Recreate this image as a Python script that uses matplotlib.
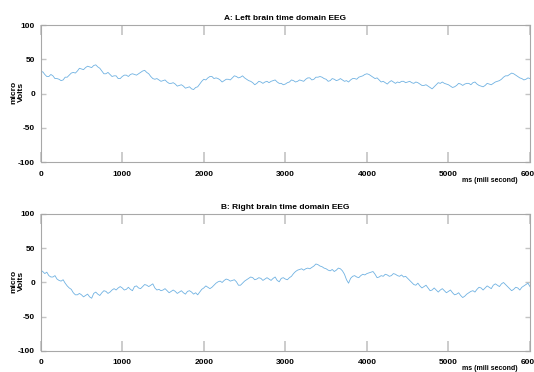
import numpy as np
import matplotlib
matplotlib.use("Agg")
import matplotlib.pyplot as plt

plt.rcParams['font.family'] = ['Liberation Sans', 'DejaVu Sans']
plt.rcParams['font.weight'] = 'bold'
plt.rcParams['axes.unicode_minus'] = False

# left brain EEG, micro volts, one value every 25 ms from 0 to 6000 ms
left_eeg = [
    31, 32, 28, 25, 25, 28, 26, 22, 22, 21, 19, 20, 24, 24, 27, 30, 31, 30, 33, 37,
    36, 35, 38, 40, 39, 38, 41, 42, 39, 37, 33, 29, 29, 31, 28, 25, 26, 26, 22, 22,
    25, 27, 27, 25, 28, 29, 28, 27, 29, 31, 33, 34, 31, 29, 25, 22, 21, 22, 20, 18,
    19, 20, 17, 15, 15, 16, 14, 11, 12, 13, 11, 8, 9, 10, 7, 6, 9, 10, 14, 18,
    21, 20, 23, 25, 25, 22, 23, 22, 20, 17, 19, 21, 21, 20, 23, 26, 25, 23, 24, 26,
    23, 21, 19, 18, 16, 13, 15, 18, 17, 15, 17, 18, 16, 18, 19, 20, 17, 15, 15, 13,
    14, 16, 17, 20, 19, 17, 18, 20, 19, 18, 21, 23, 23, 20, 21, 24, 24, 25, 24, 22,
    21, 18, 19, 22, 21, 19, 20, 22, 20, 18, 19, 17, 20, 22, 22, 21, 24, 25, 26, 28,
    29, 28, 26, 24, 22, 23, 20, 17, 18, 16, 14, 17, 19, 17, 15, 17, 16, 18, 18, 16,
    17, 18, 16, 15, 17, 16, 14, 12, 12, 13, 11, 9, 7, 10, 13, 16, 15, 17, 15, 14,
    13, 11, 9, 10, 12, 15, 14, 12, 14, 15, 15, 13, 16, 17, 14, 12, 11, 10, 12, 15,
    14, 13, 15, 17, 18, 19, 21, 24, 26, 26, 28, 30, 29, 27, 25, 23, 22, 20, 21, 23,
    22,
]

# right brain EEG, micro volts, same sampling
right_eeg = [
    18, 16, 13, 15, 10, 8, 8, 10, 5, 3, 2, 4, -1, -5, -8, -10, -15, -18, -18, -16,
    -18, -21, -19, -17, -21, -23, -16, -14, -17, -19, -15, -12, -13, -16, -14, -11, -9, -11, -8, -6,
    -8, -11, -10, -7, -10, -12, -6, -5, -8, -9, -6, -3, -4, -6, -4, -2, -8, -11, -10, -12,
    -11, -9, -12, -15, -13, -11, -13, -16, -14, -12, -15, -17, -13, -12, -14, -17, -15, -18, -14, -10,
    -8, -5, -7, -9, -7, -4, -1, 1, 2, 0, 3, 5, 4, 2, 3, 4, 1, -4, -4, -1,
    2, 4, 6, 8, 7, 4, 5, 7, 6, 3, 5, 7, 5, 3, 6, 8, 3, 1, 6, 7,
    5, 4, 7, 9, 13, 16, 18, 19, 20, 18, 20, 21, 20, 22, 24, 27, 26, 24, 23, 21,
    20, 18, 17, 19, 16, 18, 21, 20, 17, 12, 4, -1, 6, 9, 10, 8, 7, 10, 12, 11,
    13, 14, 15, 16, 12, 7, 8, 10, 9, 12, 11, 9, 10, 13, 12, 10, 9, 11, 8, 9,
    6, 3, 0, -3, -4, -1, -5, -8, -6, -4, -8, -12, -11, -8, -11, -14, -11, -9, -12, -15,
    -13, -11, -15, -18, -17, -15, -19, -22, -20, -17, -15, -13, -12, -14, -10, -7, -8, -11, -8, -5,
    -7, -9, -4, -2, -4, -6, -2, 0, -3, -6, -9, -12, -10, -7, -8, -11, -7, -5, -3, -1,
    -6,
]

titles = ['A: Left brain time domain EEG', 'B: Right brain time domain EEG']
x_ticks = [0, 1000, 2000, 3000, 4000, 5000, 6000]
y_ticks = [-100, -50, 0, 50, 100]

line_color = '#70b2e2'
frame_color = '#a8a8a8'
tick_color = '#c4c4c4'

fig = plt.figure(figsize=(5.34, 3.72), dpi=100)
axes = [fig.add_axes([0.0762, 0.5637, 0.9163, 0.369]),
        fig.add_axes([0.0762, 0.0565, 0.9163, 0.3683])]

for ax, series, title in zip(axes, [left_eeg, right_eeg], titles):
    t = np.linspace(0, 6000, len(series))
    ax.plot(t, series, color=line_color, linewidth=0.6)
    ax.set_xlim(0, 6000)
    ax.set_ylim(-100, 100)
    ax.set_xticks(x_ticks)
    ax.set_yticks(y_ticks)
    ax.set_title(title, fontsize=6, fontweight='bold', pad=3.5)

    for side in ax.spines.values():
        side.set_color(frame_color)
        side.set_linewidth(0.8)
    ax.tick_params(axis='x', direction='in', top=True, length=7, width=1.2,
                   color=tick_color, labelsize=6, pad=6)
    ax.tick_params(axis='y', direction='in', right=True, length=3.5, width=1.0,
                   color=tick_color, labelsize=6, pad=4)
    for lbl in ax.get_xticklabels() + ax.get_yticklabels():
        lbl.set_fontweight('bold')

    ax.set_xlabel('ms (mili second)', fontsize=5, fontweight='bold')
    ax.xaxis.label.set_va('center')
    ax.xaxis.set_label_coords(0.917, -0.13)
    ax.set_ylabel('micro\nVolts', fontsize=6, fontweight='bold', linespacing=1.15)
    ax.yaxis.label.set_va('center')
    ax.yaxis.set_label_coords(-0.047, 0.51)

fig.savefig('out.png', dpi=100, facecolor='white')
